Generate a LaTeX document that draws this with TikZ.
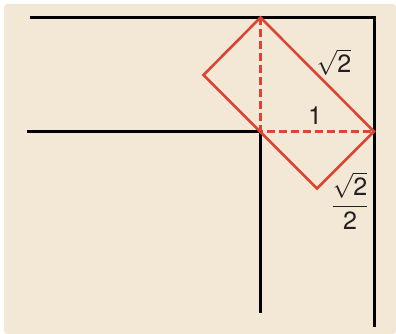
\documentclass[tikz,border=0pt]{standalone}
\usepackage{amsmath}
\usepackage{fontspec}
\setmainfont{TeX Gyre Heros}
\usetikzlibrary{positioning}
\definecolor{paper}{HTML}{F3E8D6}
\definecolor{redline}{HTML}{DC4434}
\definecolor{ink}{HTML}{231F20}
\tikzset{
  wall/.style={line width=3.2pt, draw=black},
  boxline/.style={line width=2.6pt, draw=redline, line join=miter},
  diagline/.style={line width=2.4pt, draw=redline, dash pattern=on 8pt off 4pt},
  lbl/.style={font=\fontsize{25}{28}\selectfont, text=ink, inner sep=1pt},
}

\begin{document}
\begin{tikzpicture}[x=1pt, y=-1pt]
  \useasboundingbox (0,0) rectangle (396,334);
  \fill[paper, rounded corners=3pt] (4,4) rectangle (396,334);
  % walls of the corridor
  \draw[wall] (30,17.5) -- (374.5,17.5) -- (374.5,327);
  \draw[wall] (27,131.5) -- (260.5,131.5) -- (260.5,313);
  % the turned box
  \coordinate (top) at (260.5,17.5);
  \coordinate (right) at (374,131.5);
  \coordinate (bottom) at (317,188.5);
  \coordinate (left) at (203.5,75);
  \coordinate (corner) at (260.5,131.5);
  \draw[diagline] (top) -- (corner) -- (right);
  \draw[boxline] (top) -- (right) -- (bottom) -- (left) -- cycle;
  \node[lbl] (longlbl) at (334,62) {$\sqrt{\mbox{2}}$};
  \node[lbl] (onelbl) at (315,116) {1};
  \node[lbl] (halflbl) at (350,201) {$\dfrac{\sqrt{\mbox{2}}}{\mbox{2}}$};
\end{tikzpicture}
\end{document}
